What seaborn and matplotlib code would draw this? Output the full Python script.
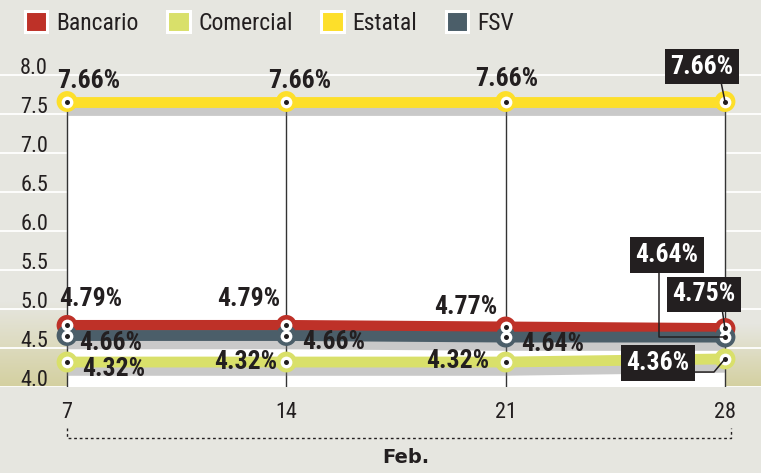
#!/usr/bin/env python3
"""
Weekly rates chart: Bancario, Comercial, Estatal and FSV for February.
"""

import numpy as np
import pandas as pd
import matplotlib.pyplot as plt
import matplotlib.patheffects as pe
from matplotlib.patches import Patch
from matplotlib.colors import LinearSegmentedColormap
from matplotlib.transforms import ScaledTranslation
import seaborn as sns

# data
days = [7, 14, 21, 28]
series_names = ["Bancario", "Comercial", "Estatal", "FSV"]
bancario = [4.79, 4.79, 4.77, 4.75]
comercial = [4.32, 4.32, 4.32, 4.36]
estatal = [7.66, 7.66, 7.66, 7.66]
fsv = [4.66, 4.66, 4.64, 4.64]
y_ticks = [4.0, 4.5, 5.0, 5.5, 6.0, 6.5, 7.0, 7.5, 8.0]
month_label = "Feb."

COLORS = {
    "Bancario": "#be3128",
    "Comercial": "#d9e06a",
    "Estatal": "#fddf2a",
    "FSV": "#4b5e69",
}
BG = "#e6e6e0"
TAN = "#d4d0a0"
INK = "#231f20"

# label styling per point: (dx px, dy px, ha, boxed)
LABEL_STYLE = {
    "Estatal": [(-10, -21, "left", False), (13, -21, "center", False),
                (1, -23, "center", False), (-23, -35, "center", True)],
    "Bancario": [(-8, -26, "left", False), (-6, -26, "right", False),
                 (-8, -20, "right", False), (-21, -34, "center", True)],
    "FSV": [(12, 7, "left", False), (16, 6, "left", False),
            (15, 7, "left", False), (-58, -82, "center", True)],
    "Comercial": [(15, 7, "left", False), (-9, 0, "right", False),
                  (-16, -1, "right", False), (-67, 4, "center", True)],
}
PX = 72 / 100  # points per pixel


def build_frame():
    values = {"Bancario": bancario, "Comercial": comercial,
              "Estatal": estatal, "FSV": fsv}
    rows = []
    for name in series_names:
        for d, v in zip(days, values[name]):
            rows.append({"day": d, "rate": v, "series": name})
    return pd.DataFrame(rows)


def create_figure(df):
    sns.set_theme(style="white")
    plt.rcParams["font.family"] = ["Roboto Condensed", "DejaVu Sans"]

    fig = plt.figure(figsize=(7.61, 4.73), dpi=100, facecolor=BG)
    ax = fig.add_axes([0, 86 / 473, 1, 345 / 473])
    ax.set_facecolor(BG)

    x0, x1 = min(days), max(days)
    xlim = (4.861, 29.149)
    ylim = (4.0, 8.423)

    # tan gradient strips on both sides
    cmap = LinearSegmentedColormap.from_list("tan", [BG, TAN])
    grad = np.linspace(1, 0, 64).reshape(-1, 1)
    ax.imshow(grad, extent=[xlim[0], x0, 4.0, 5.1], cmap=cmap, aspect="auto",
              origin="lower", zorder=0)
    ax.imshow(grad, extent=[x1, xlim[1], 4.0, 4.8], cmap=cmap, aspect="auto",
              origin="lower", zorder=0)

    # white gridlines
    for t in y_ticks:
        ax.axhline(t, color="white", lw=1.3, zorder=0.5)

    # white plot area under the top line
    ax.fill_between([x0, x1], ylim[0], max(estatal), color="white", lw=0, zorder=1)

    # vertical day lines
    ax.vlines(days, ylim[0], estatal, color="#333333", lw=1, zorder=1.5)

    sns.lineplot(
        data=df, x="day", y="rate", hue="series", hue_order=series_names,
        palette=COLORS, linewidth=7.8, legend=False, ax=ax, zorder=3,
        solid_capstyle="butt",
        path_effects=[pe.SimpleLineShadow(offset=(0, -6), shadow_color="#7a7a7a",
                                          alpha=0.4), pe.Normal()],
    )

    # ring markers: coloured disc, white disc, black dot
    sns.scatterplot(data=df, x="day", y="rate", hue="series", hue_order=series_names,
                    palette=COLORS, s=225, linewidth=0, legend=False, ax=ax, zorder=4)
    ax.scatter(df["day"], df["rate"], s=72, color="white", linewidth=0, zorder=5)
    ax.scatter(df["day"], df["rate"], s=13, color=INK, linewidth=0, zorder=6)

    # value labels
    values = {"Bancario": bancario, "Comercial": comercial,
              "Estatal": estatal, "FSV": fsv}
    for name in series_names:
        for i, (d, v) in enumerate(zip(days, values[name])):
            dx, dy, ha, boxed = LABEL_STYLE[name][i]
            kw = dict(
                xy=(d, v), xytext=(dx * PX, -dy * PX), textcoords="offset points",
                ha=ha, va="center", fontsize=18.5, fontweight="black",
                color="white" if boxed else INK, zorder=7,
            )
            if boxed:
                kw["bbox"] = dict(boxstyle="square,pad=0.22", fc=INK, ec="none")
                if name == "FSV":
                    kw["arrowprops"] = dict(arrowstyle="-", color=INK, lw=1.1,
                                            connectionstyle="angle,angleA=90,angleB=0,rad=0",
                                            relpos=(0.37, 0), shrinkA=0, shrinkB=0)
                elif name == "Comercial":
                    kw["arrowprops"] = dict(arrowstyle="-", color=INK, lw=1.1,
                                            connectionstyle="angle,angleA=0,angleB=50,rad=0",
                                            relpos=(1, 0.12), shrinkA=0, shrinkB=0)
                else:
                    kw["arrowprops"] = dict(arrowstyle="-", color=INK, lw=1.1,
                                            relpos=(0.79, 0) if name == "Estatal" else (0.78, 0),
                                            shrinkA=0, shrinkB=0)
            ax.annotate(f"{v:.2f}%", **kw)

    ax.set_xlim(*xlim)
    ax.set_ylim(*ylim)
    ax.set_xticks(days)
    ax.set_xticklabels([str(d) for d in days])
    ax.set_yticks(y_ticks)
    ax.set_yticklabels([f"{t:.1f}" for t in y_ticks])
    ax.tick_params(axis="x", length=0, pad=11, labelsize=16, labelcolor=INK)
    ax.tick_params(axis="y", length=0, pad=-48 * PX, labelsize=16, labelcolor=INK)
    up = ScaledTranslation(0, 9 / 100, fig.dpi_scale_trans)
    for lbl in ax.get_yticklabels():
        lbl.set_transform(lbl.get_transform() + up)
    ax.set_xlabel("")
    ax.set_ylabel("")
    for s in ax.spines.values():
        s.set_visible(False)

    # dotted bracket under the days
    yb = ylim[0] - 51 / 78
    yt = ylim[0] - 41 / 78
    ax.plot([x0, x0, x1 + 0.2, x1 + 0.2], [yt, yb, yb, yt], ls=(0, (2, 2)),
            color=INK, lw=1, clip_on=False)
    ax.text((x0 + x1) / 2 + 0.3, ylim[0] - 70 / 78, month_label, ha="center", va="center",
            fontsize=14, fontweight="bold", color=INK, family="DejaVu Sans")

    # legend
    handles = [Patch(facecolor=COLORS[n], edgecolor="white", linewidth=2.2, label=n)
               for n in series_names]
    fig.legend(handles=handles, loc="center left", bbox_to_anchor=(25 / 761, 1 - 23 / 473),
               ncol=4, frameon=False, fontsize=17, handlelength=0.95, handleheight=0.95,
               handletextpad=0.38, columnspacing=1.2, labelcolor=INK, borderpad=0,
               borderaxespad=0)
    return fig


def main():
    df = build_frame()
    fig = create_figure(df)
    fig.savefig("out.png", dpi=100, facecolor=BG)
    plt.close()


if __name__ == "__main__":
    main()
